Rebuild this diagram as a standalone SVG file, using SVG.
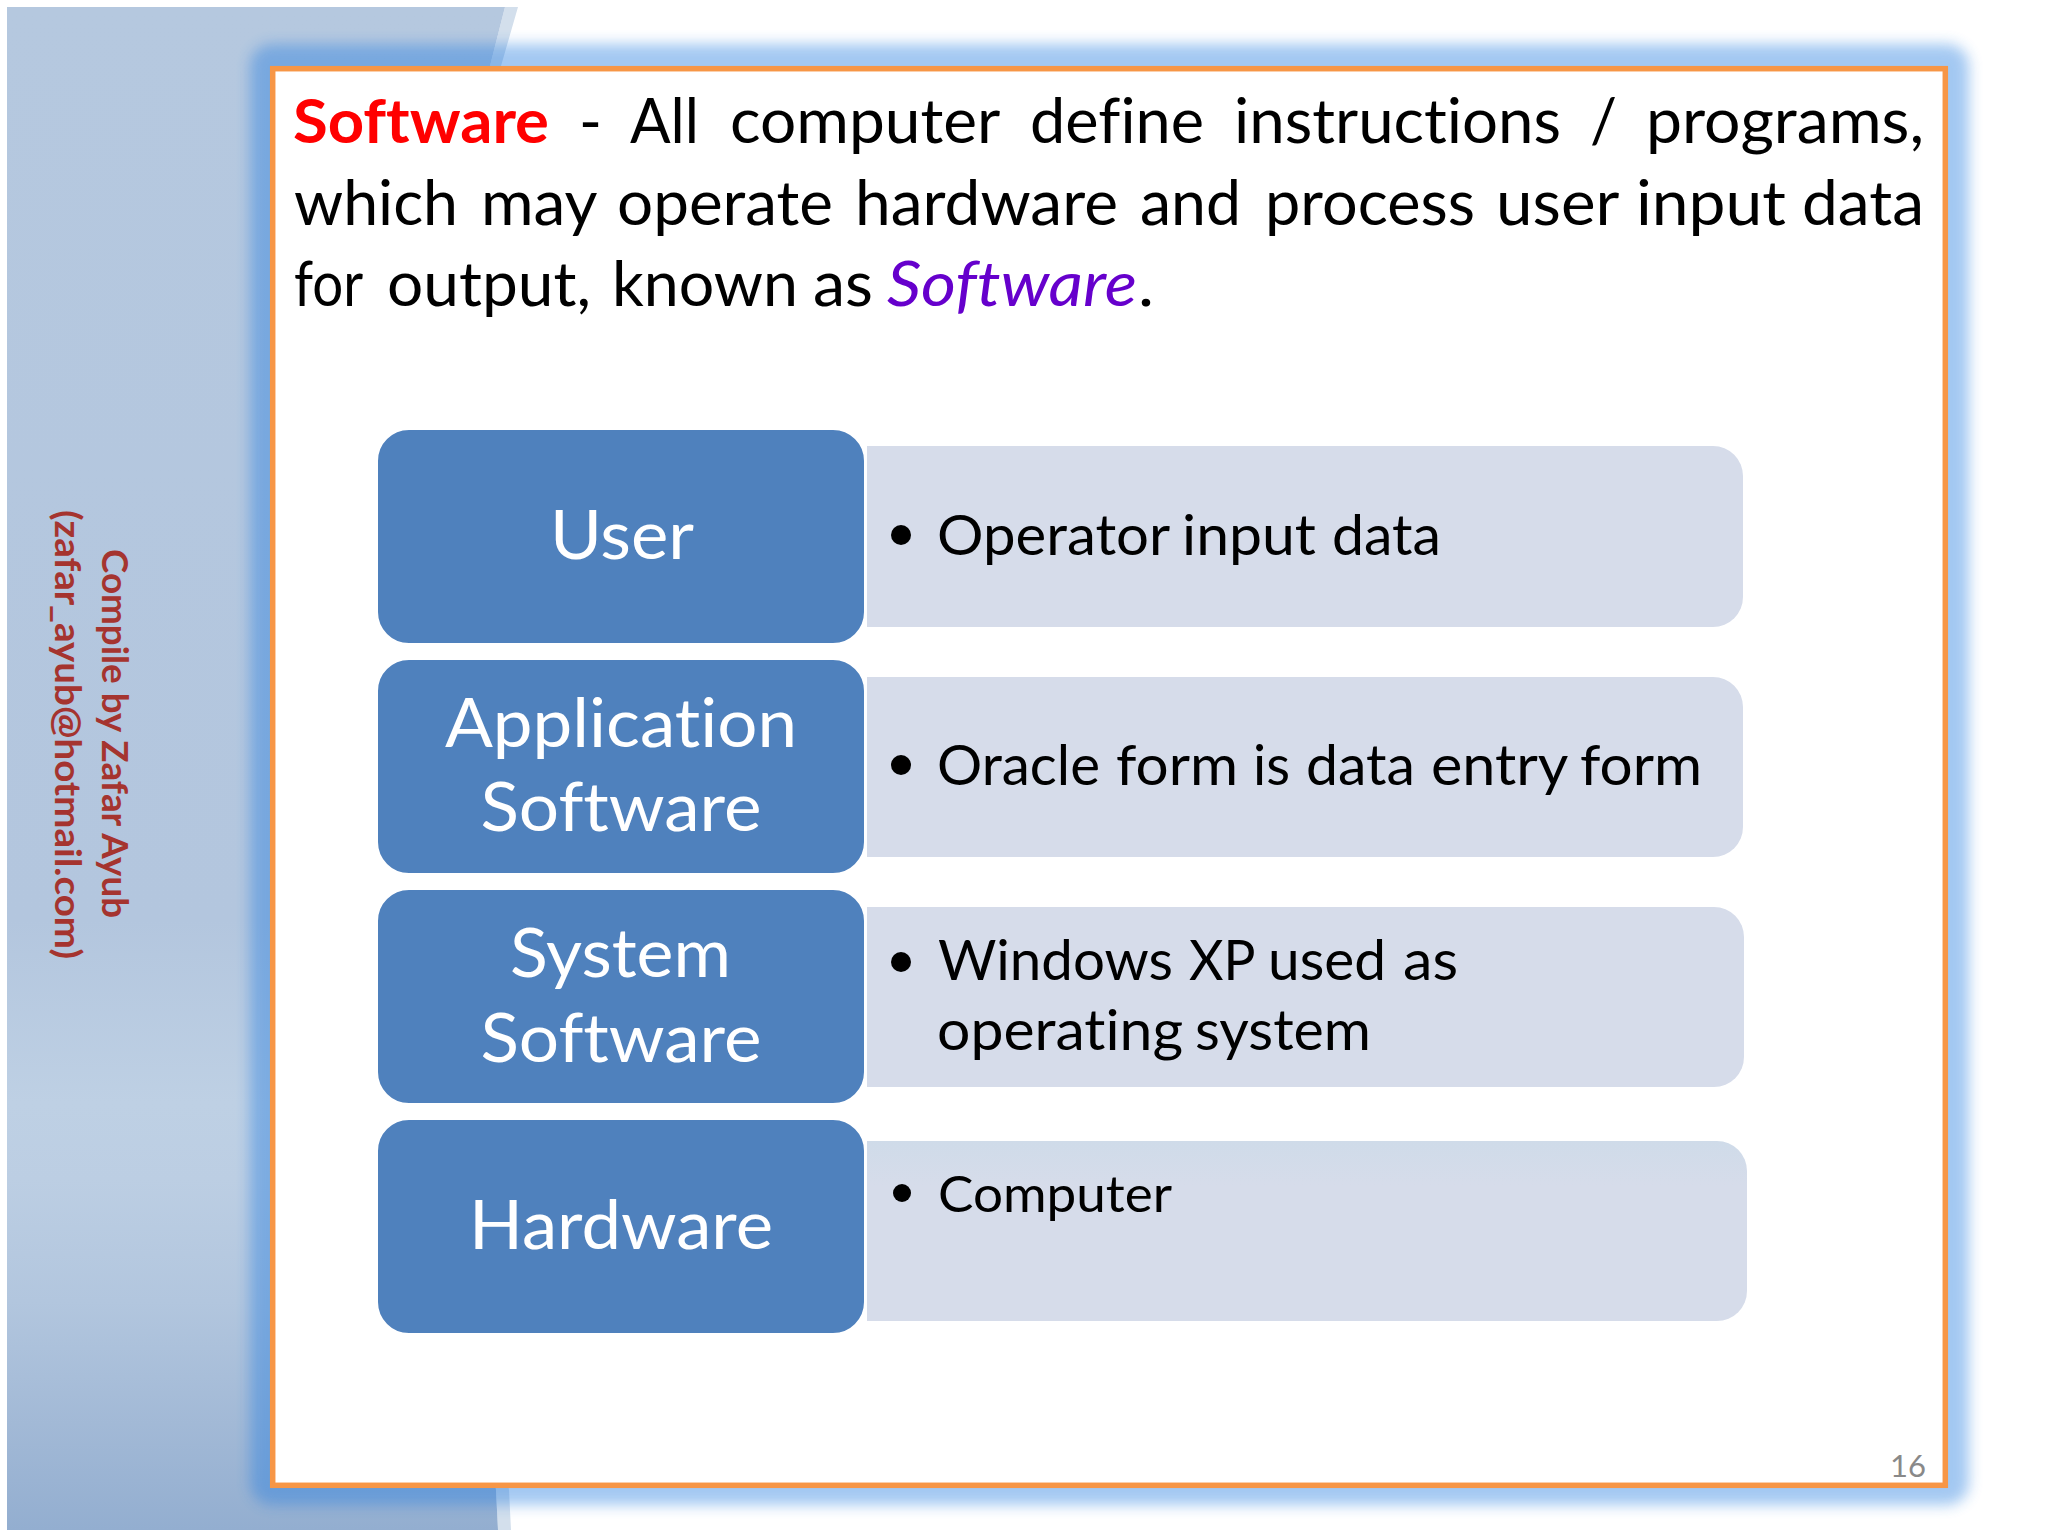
<svg xmlns="http://www.w3.org/2000/svg" width="2048" height="1536" viewBox="0 0 2048 1536">
<style>
text{font-family:"Lato","Carlito","Noto Sans",sans-serif;font-variant-ligatures:none}
.b{font-size:62px;fill:#000}
.n{font-size:68px;fill:#fff;text-anchor:middle}
.d{font-size:57px;fill:#000}
.box{fill:#4f81bd;stroke:#fff;stroke-width:2}
.pale{fill:#d6dcea}
.dot{fill:#000}
.side{font-size:37px;font-weight:700;fill:#a5342f}
</style>
<defs>
<linearGradient id="panel" x1="0" y1="0" x2="0" y2="1">
<stop offset="0" stop-color="#b5c8df"/><stop offset=".6" stop-color="#b3c6de"/><stop offset=".72" stop-color="#bed0e4"/><stop offset=".77" stop-color="#bccee3"/><stop offset=".85" stop-color="#b2c6de"/><stop offset=".93" stop-color="#a2b9d6"/><stop offset="1" stop-color="#93aed0"/>
</linearGradient>
<linearGradient id="pale4" x1="0" y1="0" x2="0" y2="1"><stop offset="0" stop-color="#cfdbe9"/><stop offset=".25" stop-color="#d6dcea"/></linearGradient>
<filter id="soft" x="-5%" y="-5%" width="110%" height="110%"><feGaussianBlur stdDeviation="7"/></filter>
</defs>
<rect width="2048" height="1536" fill="#fff"/>
<g id="side-panel">
<path d="M505 7L518 7L501 66L480 300L480 1300L509 1490L511 1530L498 1530L496 1490L470 1300L470 300L490 66Z" fill="#d3dfec"/>
<path d="M7 7L505 7L490 66L470 300L470 1300L496 1490L498 1530L7 1530Z" fill="url(#panel)"/>
<text class="side" transform="translate(102 549) rotate(90)" textLength="369" lengthAdjust="spacingAndGlyphs">Compile by Zafar Ayub</text>
<text class="side" transform="translate(55 510) rotate(90)" textLength="449" lengthAdjust="spacingAndGlyphs">(zafar_ayub@hotmail.com)</text>
</g>
<g id="frame">
<rect x="250" y="44" width="1719" height="1461" rx="22" fill="#287ee0" opacity=".42" filter="url(#soft)"/>
<rect x="272.7" y="68.7" width="1672.6" height="1416.6" fill="#fff" stroke="#f79646" stroke-width="5.5"/>
</g>
<g id="definition">
<text class="b" y="143"><tspan x="293" textLength="256" lengthAdjust="spacingAndGlyphs" font-weight="700" fill="#ff0000">Software</tspan> <tspan x="579" textLength="23" lengthAdjust="spacingAndGlyphs">-</tspan> <tspan x="630" textLength="69" lengthAdjust="spacingAndGlyphs">All</tspan> <tspan x="730" textLength="269" lengthAdjust="spacingAndGlyphs">computer</tspan> <tspan x="1030" textLength="174" lengthAdjust="spacingAndGlyphs">define</tspan> <tspan x="1234" textLength="327" lengthAdjust="spacingAndGlyphs">instructions</tspan> <tspan x="1590" textLength="27" lengthAdjust="spacingAndGlyphs">/</tspan> <tspan x="1646" textLength="278" lengthAdjust="spacingAndGlyphs">programs,</tspan></text>
<text class="b" y="225"><tspan x="294" textLength="164" lengthAdjust="spacingAndGlyphs">which</tspan> <tspan x="481" textLength="115" lengthAdjust="spacingAndGlyphs">may</tspan> <tspan x="617" textLength="216" lengthAdjust="spacingAndGlyphs">operate</tspan> <tspan x="855" textLength="263" lengthAdjust="spacingAndGlyphs">hardware</tspan> <tspan x="1140" textLength="101" lengthAdjust="spacingAndGlyphs">and</tspan> <tspan x="1265" textLength="210" lengthAdjust="spacingAndGlyphs">process</tspan> <tspan x="1496" textLength="122" lengthAdjust="spacingAndGlyphs">user</tspan> <tspan x="1636" textLength="150" lengthAdjust="spacingAndGlyphs">input</tspan> <tspan x="1802" textLength="122" lengthAdjust="spacingAndGlyphs">data</tspan></text>
<text class="b" y="306"><tspan x="294" textLength="68" lengthAdjust="spacingAndGlyphs">for</tspan> <tspan x="387" textLength="204" lengthAdjust="spacingAndGlyphs">output,</tspan> <tspan x="612" textLength="186" lengthAdjust="spacingAndGlyphs">known</tspan> <tspan x="813" textLength="60" lengthAdjust="spacingAndGlyphs">as</tspan> <tspan x="887" textLength="250" lengthAdjust="spacingAndGlyphs" font-style="italic" fill="#6600cc">Software</tspan><tspan x="1138" textLength="16" lengthAdjust="spacingAndGlyphs">.</tspan></text>
</g>
<g id="row-user">
<path class="pale" d="M867 446H1713a30 30 0 0 1 30 30V597a30 30 0 0 1-30 30H867Z"/>
<rect class="box" x="377" y="429" width="488" height="215" rx="32"/>
<text class="n" x="622" y="559" textLength="144" lengthAdjust="spacingAndGlyphs">User</text>
<circle class="dot" cx="901" cy="535" r="10"/>
<text class="d" y="555"><tspan x="937" textLength="232" lengthAdjust="spacingAndGlyphs">Operator</tspan> <tspan x="1182" textLength="134" lengthAdjust="spacingAndGlyphs">input</tspan> <tspan x="1332" textLength="109" lengthAdjust="spacingAndGlyphs">data</tspan></text>
</g>
<g id="row-application">
<path class="pale" d="M867 677H1713a30 30 0 0 1 30 30V827a30 30 0 0 1-30 30H867Z"/>
<rect class="box" x="377" y="659" width="488" height="215" rx="32"/>
<text class="n" x="621" y="747" textLength="352" lengthAdjust="spacingAndGlyphs">Application</text>
<text class="n" x="621" y="831" textLength="281" lengthAdjust="spacingAndGlyphs">Software</text>
<circle class="dot" cx="901" cy="765" r="10"/>
<text class="d" y="785"><tspan x="937" textLength="163" lengthAdjust="spacingAndGlyphs">Oracle</tspan> <tspan x="1116" textLength="122" lengthAdjust="spacingAndGlyphs">form</tspan> <tspan x="1253" textLength="37" lengthAdjust="spacingAndGlyphs">is</tspan> <tspan x="1306" textLength="109" lengthAdjust="spacingAndGlyphs">data</tspan> <tspan x="1431" textLength="136" lengthAdjust="spacingAndGlyphs">entry</tspan> <tspan x="1580" textLength="122" lengthAdjust="spacingAndGlyphs">form</tspan></text>
</g>
<g id="row-system">
<path class="pale" d="M867 907H1714a30 30 0 0 1 30 30V1057a30 30 0 0 1-30 30H867Z"/>
<rect class="box" x="377" y="889" width="488" height="215" rx="32"/>
<text class="n" x="620.5" y="977" textLength="221" lengthAdjust="spacingAndGlyphs">System</text>
<text class="n" x="621" y="1062" textLength="281" lengthAdjust="spacingAndGlyphs">Software</text>
<circle class="dot" cx="901" cy="962" r="10"/>
<text class="d" y="980"><tspan x="938" textLength="235" lengthAdjust="spacingAndGlyphs">Windows</tspan> <tspan x="1189" textLength="65" lengthAdjust="spacingAndGlyphs">XP</tspan> <tspan x="1268" textLength="118" lengthAdjust="spacingAndGlyphs">used</tspan> <tspan x="1403" textLength="55" lengthAdjust="spacingAndGlyphs">as</tspan></text>
<text class="d" y="1050"><tspan x="937" textLength="246" lengthAdjust="spacingAndGlyphs">operating</tspan> <tspan x="1195" textLength="176" lengthAdjust="spacingAndGlyphs">system</tspan></text>
</g>
<g id="row-hardware">
<path d="M867 1141H1717a30 30 0 0 1 30 30V1291a30 30 0 0 1-30 30H867Z" fill="url(#pale4)"/>
<rect class="box" x="377" y="1119" width="488" height="215" rx="32"/>
<text class="n" x="621" y="1249" textLength="304" lengthAdjust="spacingAndGlyphs">Hardware</text>
<circle class="dot" cx="902" cy="1193" r="9"/>
<text class="d" style="font-size:51px" x="938" y="1212" textLength="234" lengthAdjust="spacingAndGlyphs">Computer</text>
</g>
<text id="page-number" x="1890" y="1477" font-size="31" fill="#898989" textLength="36" lengthAdjust="spacingAndGlyphs">16</text>
</svg>
